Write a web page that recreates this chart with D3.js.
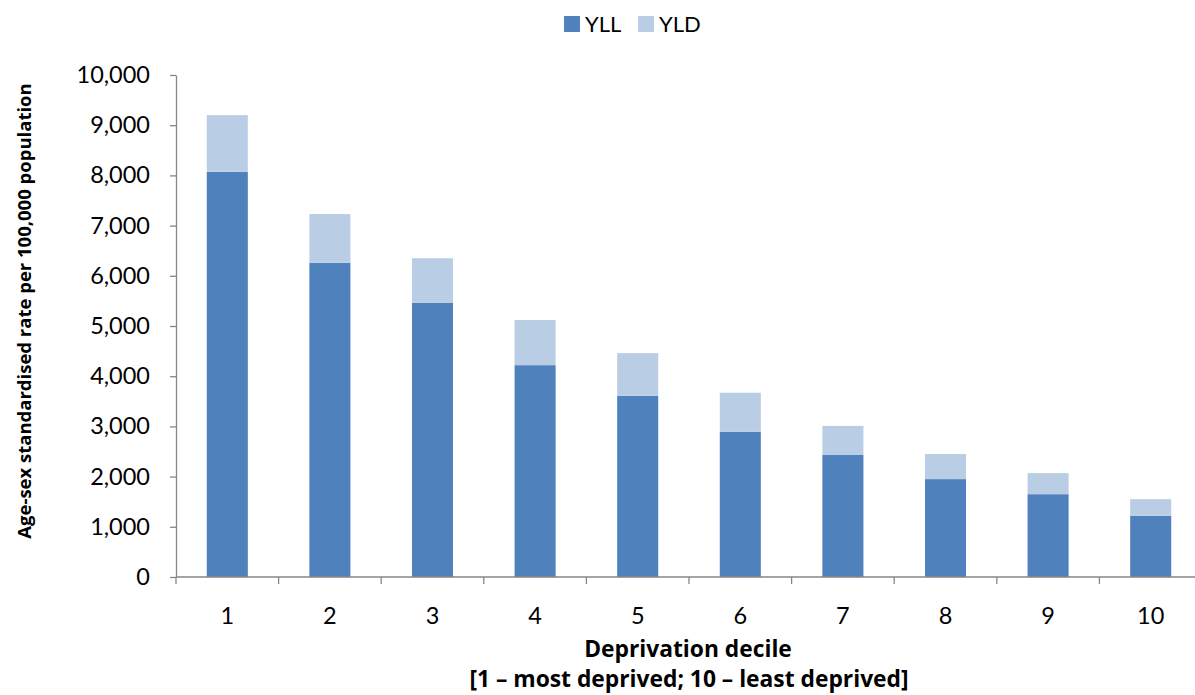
<!DOCTYPE html>
<html>
<head>
<meta charset="utf-8">
<script src="https://cdn.jsdelivr.net/npm/d3@7"></script>
<style>
  html, body { margin: 0; padding: 0; background: #fff; }
  svg { display: block; font-family: Lato, "Open Sans", sans-serif; }
</style>
</head>
<body>
<svg id="chart" width="1195" height="695"></svg>
<script>
// Deprivation deciles and years-of-life rates (age-sex standardised, per 100,000)
const deciles = ["1", "2", "3", "4", "5", "6", "7", "8", "9", "10"];
const yll = [8070, 6260, 5460, 4220, 3610, 2890, 2430, 1950, 1650, 1220];
const yld = [1130, 970, 890, 900, 850, 780, 580, 500, 420, 330];
const seriesNames = ["YLL", "YLD"];
const yTicks = [0, 1000, 2000, 3000, 4000, 5000, 6000, 7000, 8000, 9000, 10000];

const colors = { YLL: "#4F81BD", YLD: "#B9CDE5" };
const axisColor = "#868686";
const titleFont = "'Open Sans', Lato, sans-serif";

const svg = d3.select("#chart");
const plot = { left: 176, right: 1202, top: 75, bottom: 577 };

const rows = deciles.map((d, i) => ({ decile: d, YLL: yll[i], YLD: yld[i] }));
const stacked = d3.stack().keys(seriesNames)(rows);

const x = d3.scaleBand()
  .domain(deciles)
  .range([plot.left, plot.right])
  .paddingInner(0.6)
  .paddingOuter(0.3);

const y = d3.scaleLinear()
  .domain([0, 10000])
  .range([plot.bottom, plot.top]);

// Bars
svg.append("g")
  .selectAll("g")
  .data(stacked)
  .join("g")
  .attr("fill", d => colors[d.key])
  .selectAll("rect")
  .data(d => d)
  .join("rect")
  .attr("x", d => x(d.data.decile))
  .attr("width", x.bandwidth())
  .attr("y", d => y(d[1]))
  .attr("height", d => y(d[0]) - y(d[1]));

// Y axis
const yAxis = svg.append("g")
  .attr("transform", `translate(${plot.left},0)`)
  .call(d3.axisLeft(y).tickValues(yTicks).tickFormat(d3.format(",")).tickSize(6).tickSizeOuter(0));
yAxis.select(".domain").attr("stroke", axisColor).attr("stroke-width", 1.3);
yAxis.selectAll(".tick line").attr("stroke", axisColor).attr("stroke-width", 1.3);
yAxis.selectAll(".tick text")
  .attr("x", -26)
  .attr("font-size", 23.5)
  .attr("font-family", "Lato, 'Open Sans', sans-serif")
  .attr("fill", "#000");

// X axis: baseline, with ticks at the boundaries between deciles
const step = x.step();
const boundaries = [plot.left].concat(deciles.map(d => x(d) + x.bandwidth() / 2 + step / 2));
const xg = svg.append("g");
xg.append("line")
  .attr("x1", plot.left).attr("x2", plot.right)
  .attr("y1", y(0)).attr("y2", y(0))
  .attr("stroke", axisColor).attr("stroke-width", 1.3);
xg.selectAll("line.tick")
  .data(boundaries)
  .join("line")
  .attr("class", "tick")
  .attr("x1", d => d).attr("x2", d => d)
  .attr("y1", y(0)).attr("y2", y(0) + 7)
  .attr("stroke", axisColor).attr("stroke-width", 1.3);
xg.selectAll("text")
  .data(deciles)
  .join("text")
  .attr("x", d => x(d) + x.bandwidth() / 2)
  .attr("y", 624)
  .attr("text-anchor", "middle")
  .attr("font-size", 23.5)
  .attr("fill", "#000")
  .text(d => d);

// Axis titles
svg.append("text")
  .attr("x", 688).attr("y", 657)
  .attr("text-anchor", "middle")
  .attr("font-family", titleFont)
  .attr("font-size", 22.8).attr("font-weight", "bold")
  .text("Deprivation decile");
svg.append("text")
  .attr("x", 689).attr("y", 687)
  .attr("text-anchor", "middle")
  .attr("font-family", titleFont)
  .attr("font-size", 22.8).attr("font-weight", "bold")
  .text("[1 \u2013 most deprived; 10 \u2013 least deprived]");
svg.append("text")
  .attr("transform", "translate(31,311) rotate(-90)")
  .attr("text-anchor", "middle")
  .attr("font-family", titleFont)
  .attr("font-size", 18.5).attr("font-weight", "bold")
  .text("Age-sex standardised rate per 100,000 population");

// Legend
const legend = svg.append("g").attr("transform", "translate(564,16)");
const legendItems = legend.selectAll("g")
  .data(seriesNames)
  .join("g")
  .attr("transform", (d, i) => `translate(${i * 74},0)`);
legendItems.append("rect")
  .attr("width", 16).attr("height", 16)
  .attr("fill", d => colors[d]);
legendItems.append("text")
  .attr("x", 21).attr("y", 16)
  .attr("font-size", 22)
  .attr("fill", "#000")
  .text(d => d);
</script>
</body>
</html>
